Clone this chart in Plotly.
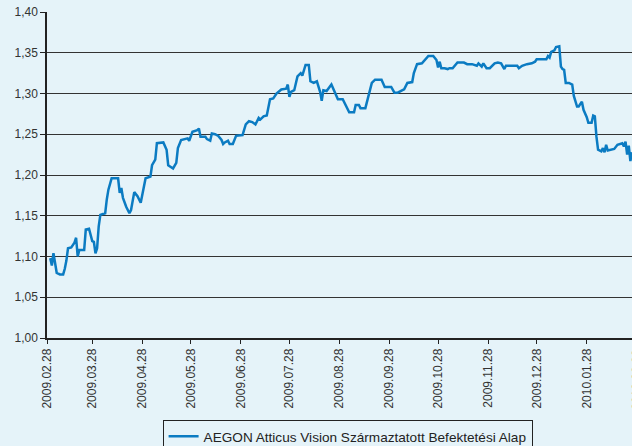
import plotly.graph_objects as go

# ---- data ----
dates = [
    "2009-03-02", "2009-03-03", "2009-03-04", "2009-03-05", "2009-03-06", "2009-03-08",
    "2009-03-10", "2009-03-11", "2009-03-12", "2009-03-13", "2009-03-15", "2009-03-17",
    "2009-03-18", "2009-03-19", "2009-03-20", "2009-03-23", "2009-03-24", "2009-03-26",
    "2009-03-28", "2009-03-29", "2009-03-30", "2009-03-31", "2009-04-01", "2009-04-02",
    "2009-04-05", "2009-04-06", "2009-04-07", "2009-04-09", "2009-04-13", "2009-04-14",
    "2009-04-15", "2009-04-16", "2009-04-18", "2009-04-20", "2009-04-21", "2009-04-23",
    "2009-04-25", "2009-04-27", "2009-04-30", "2009-05-03", "2009-05-04", "2009-05-06",
    "2009-05-07", "2009-05-11", "2009-05-13", "2009-05-14", "2009-05-17", "2009-05-19",
    "2009-05-20", "2009-05-22", "2009-05-26", "2009-05-27", "2009-05-29", "2009-06-01",
    "2009-06-02", "2009-06-03", "2009-06-06", "2009-06-07", "2009-06-09", "2009-06-10",
    "2009-06-12", "2009-06-14", "2009-06-16", "2009-06-17", "2009-06-18", "2009-06-20",
    "2009-06-21", "2009-06-23", "2009-06-24", "2009-06-25", "2009-06-29", "2009-07-01",
    "2009-07-03", "2009-07-05", "2009-07-07", "2009-07-09", "2009-07-10", "2009-07-12",
    "2009-07-14", "2009-07-15", "2009-07-16", "2009-07-18", "2009-07-20", "2009-07-23",
    "2009-07-26", "2009-07-27", "2009-07-28", "2009-07-29", "2009-07-31", "2009-08-02",
    "2009-08-04", "2009-08-05", "2009-08-07", "2009-08-09", "2009-08-10", "2009-08-12",
    "2009-08-14", "2009-08-16", "2009-08-17", "2009-08-18", "2009-08-20", "2009-08-23",
    "2009-08-25", "2009-08-27", "2009-08-30", "2009-09-01", "2009-09-03", "2009-09-06",
    "2009-09-07", "2009-09-09", "2009-09-10", "2009-09-13", "2009-09-15", "2009-09-17",
    "2009-09-19", "2009-09-23", "2009-09-25", "2009-09-29", "2009-10-01", "2009-10-03",
    "2009-10-06", "2009-10-07", "2009-10-09", "2009-10-12", "2009-10-13", "2009-10-15",
    "2009-10-18", "2009-10-20", "2009-10-22", "2009-10-25", "2009-10-27", "2009-10-28",
    "2009-10-29", "2009-10-30", "2009-11-01", "2009-11-03", "2009-11-04", "2009-11-06",
    "2009-11-08", "2009-11-09", "2009-11-13", "2009-11-15", "2009-11-18", "2009-11-21",
    "2009-11-22", "2009-11-24", "2009-11-25", "2009-11-27", "2009-11-29", "2009-12-02",
    "2009-12-04", "2009-12-06", "2009-12-08", "2009-12-09", "2009-12-14", "2009-12-16",
    "2009-12-17", "2009-12-19", "2009-12-22", "2009-12-25", "2009-12-27", "2009-12-28",
    "2010-01-01", "2010-01-03", "2010-01-04", "2010-01-05", "2010-01-06", "2010-01-08",
    "2010-01-09", "2010-01-11", "2010-01-12", "2010-01-13", "2010-01-14", "2010-01-15",
    "2010-01-17", "2010-01-19", "2010-01-20", "2010-01-22", "2010-01-23", "2010-01-25",
    "2010-01-26", "2010-01-28", "2010-01-29", "2010-01-31", "2010-02-01", "2010-02-02",
    "2010-02-03", "2010-02-04", "2010-02-06", "2010-02-07", "2010-02-08", "2010-02-09",
    "2010-02-10", "2010-02-12", "2010-02-14", "2010-02-16", "2010-02-19", "2010-02-20",
    "2010-02-21", "2010-02-22", "2010-02-23", "2010-02-24", "2010-02-25",
]
values = [
    1.098, 1.089, 1.104, 1.093, 1.080, 1.078,
    1.078, 1.085, 1.095, 1.110, 1.111, 1.117,
    1.123, 1.100, 1.108, 1.108, 1.133, 1.134,
    1.119, 1.118, 1.104, 1.110, 1.137, 1.151,
    1.153, 1.170, 1.182, 1.196, 1.196, 1.178,
    1.184, 1.172, 1.161, 1.153, 1.157, 1.179,
    1.174, 1.166, 1.196, 1.198, 1.212, 1.219,
    1.239, 1.240, 1.231, 1.212, 1.208, 1.215,
    1.233, 1.243, 1.245, 1.242, 1.253, 1.255,
    1.257, 1.247, 1.247, 1.244, 1.242, 1.251,
    1.250, 1.248, 1.243, 1.238, 1.240, 1.242,
    1.238, 1.238, 1.242, 1.248, 1.249, 1.262,
    1.266, 1.265, 1.262, 1.270, 1.268, 1.272,
    1.273, 1.282, 1.293, 1.294, 1.300, 1.305,
    1.306, 1.311, 1.296, 1.302, 1.304, 1.321,
    1.325, 1.322, 1.335, 1.335, 1.315, 1.313,
    1.315, 1.302, 1.291, 1.304, 1.303, 1.311,
    1.302, 1.293, 1.293, 1.284, 1.277, 1.277,
    1.286, 1.286, 1.282, 1.282, 1.296, 1.313,
    1.317, 1.317, 1.308, 1.308, 1.301, 1.301,
    1.304, 1.305, 1.313, 1.314, 1.325, 1.336,
    1.337, 1.341, 1.346, 1.346, 1.341, 1.332,
    1.339, 1.331, 1.331, 1.330, 1.331, 1.331,
    1.335, 1.338, 1.338, 1.336, 1.336, 1.334,
    1.337, 1.333, 1.337, 1.331, 1.331, 1.337,
    1.338, 1.337, 1.330, 1.334, 1.334, 1.334,
    1.331, 1.334, 1.336, 1.337, 1.339, 1.342,
    1.342, 1.342, 1.346, 1.344, 1.351, 1.353,
    1.357, 1.358, 1.333, 1.330, 1.329, 1.313,
    1.313, 1.311, 1.297, 1.284, 1.284, 1.290,
    1.280, 1.271, 1.264, 1.264, 1.273, 1.272,
    1.247, 1.231, 1.229, 1.233, 1.228, 1.237,
    1.230, 1.231, 1.232, 1.237, 1.239, 1.235,
    1.241, 1.225, 1.236, 1.217, 1.228,
]
series_name = "AEGON Atticus Vision Származtatott Befektetési Alap"

tick_dates = [
    "2009-02-28", "2009-03-28", "2009-04-28", "2009-05-28", "2009-06-28",
    "2009-07-28", "2009-08-28", "2009-09-28", "2009-10-28", "2009-11-28",
    "2009-12-28", "2010-01-28",
]
tick_labels = [d.replace("-", ".") for d in tick_dates]
last_tick_label = "2010.02.28"

y_ticks = [1.00, 1.05, 1.10, 1.15, 1.20, 1.25, 1.30, 1.35, 1.40]

# ---- styling ----
BG = "#e5f3f9"
LINE = "#0b7bc2"
FONT = "Liberation Sans, Arial, sans-serif"

fig = go.Figure()
fig.add_trace(go.Scatter(
    x=dates, y=values, mode="lines", name=series_name,
    line=dict(color=LINE, width=2.5),
    showlegend=True,
))

fig.update_layout(
    width=632, height=446,
    margin=dict(l=47, r=0, t=12, b=108, autoexpand=False),
    paper_bgcolor=BG, plot_bgcolor=BG,
    separators=", ",
    font=dict(family=FONT, size=12, color="#333333"),
    showlegend=True,
    legend=dict(
        orientation="h",
        xref="container", x=0.55, xanchor="center",
        yref="container", y=1 - 420 / 446, yanchor="top",
        bordercolor="#222222", borderwidth=1, bgcolor="rgba(0,0,0,0)",
        font=dict(family=FONT, size=13.6, color="#222222"),
    ),
    xaxis=dict(
        type="date", range=["2009-02-28", "2010-02-25"], automargin=False,
        tickvals=tick_dates, ticktext=tick_labels, tickangle=-90,
        ticks="outside", ticklen=4, tickcolor="#222222", tickwidth=1,
        showgrid=False, showline=True, linecolor="#222222", linewidth=1.5,
        zeroline=False, tickfont=dict(size=12, color="#333333"),
    ),
    yaxis=dict(
        range=[1.0, 1.4], tickvals=y_ticks, tickformat=".2f", automargin=False,
        ticks="outside", ticklen=5, tickcolor="#222222", tickwidth=1,
        showgrid=True, gridcolor="#333333", gridwidth=1,
        showline=True, linecolor="#222222", linewidth=1.5,
        zeroline=False, tickfont=dict(size=12, color="#333333"),
    ),
)

# partially visible last tick label at the right edge (clipped as in the original)
fig.add_annotation(
    x=1.0085, xref="paper", y=-0.03, yref="paper",
    text=last_tick_label, textangle=-90, showarrow=False,
    xanchor="center", yanchor="top",
    font=dict(family=FONT, size=12, color="#333333"),
)

# remove the browser's default 8px page margin so the figure fills the window
fig.write_html(
    "out.html",
    config={"displayModeBar": False},
    post_script="document.body.style.margin='0';",
)
